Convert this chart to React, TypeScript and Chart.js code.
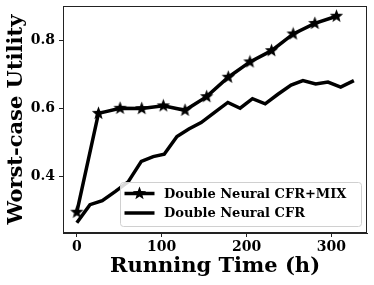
import React, { useEffect, useRef } from "react";
import { Chart, registerables } from "chart.js";
Chart.register(...registerables);

const mixLabel = "Double Neural CFR+MIX";
const baseLabel = "Double Neural CFR";
const mixHours = [0, 25.5, 51, 76.5, 102, 127.5, 153, 178.5, 204, 229.5, 255, 280.5, 306];
const mixUtility = [0.295, 0.585, 0.6, 0.599, 0.607, 0.594, 0.634, 0.691, 0.736, 0.769, 0.818, 0.849, 0.87];
const baseHours = [0, 15.5, 30, 45.5, 60.5, 76, 90, 103, 118, 132, 146.5, 162, 178, 192.5, 207, 222, 237, 252.5, 266.5, 281.5, 296, 311, 326.5];
const baseUtility = [0.264, 0.317, 0.329, 0.356, 0.384, 0.444, 0.458, 0.465, 0.517, 0.539, 0.558, 0.587, 0.617, 0.6, 0.628, 0.613, 0.641, 0.668, 0.681, 0.671, 0.677, 0.662, 0.681];
const xTicks = [0, 100, 200, 300];
const yTicks = [0.4, 0.6, 0.8];

const FONT = "'DejaVu Serif', serif";

function makeStar(size: number): HTMLCanvasElement {
  const c = document.createElement("canvas");
  c.width = size;
  c.height = size;
  const g = c.getContext("2d")!;
  const cx = size / 2, cy = size / 2, R = size / 2 - 0.5, r = R * 0.42;
  g.beginPath();
  for (let i = 0; i < 10; i++) {
    const rad = i % 2 === 0 ? R : r;
    const a = -Math.PI / 2 + (i * Math.PI) / 5;
    const px = cx + rad * Math.cos(a), py = cy + rad * Math.sin(a);
    if (i === 0) g.moveTo(px, py); else g.lineTo(px, py);
  }
  g.closePath();
  g.fillStyle = "#000";
  g.fill();
  return c;
}

export default function App() {
  const ref = useRef<HTMLCanvasElement | null>(null);
  useEffect(() => {
    const star = makeStar(15);
    const framePlugin = {
      id: "frameLegend",
      afterDatasetsDraw(chart: any) {
        const { ctx, chartArea: a } = chart;
        ctx.save();
        // legend
        const lx = 120.5, ly = 182.5, lw = 241, lh = 44, rr = 3;
        ctx.beginPath();
        ctx.moveTo(lx + rr, ly);
        ctx.lineTo(lx + lw - rr, ly);
        ctx.quadraticCurveTo(lx + lw, ly, lx + lw, ly + rr);
        ctx.lineTo(lx + lw, ly + lh - rr);
        ctx.quadraticCurveTo(lx + lw, ly + lh, lx + lw - rr, ly + lh);
        ctx.lineTo(lx + rr, ly + lh);
        ctx.quadraticCurveTo(lx, ly + lh, lx, ly + lh - rr);
        ctx.lineTo(lx, ly + rr);
        ctx.quadraticCurveTo(lx, ly, lx + rr, ly);
        ctx.closePath();
        ctx.fillStyle = "rgba(255,255,255,0.85)";
        ctx.fill();
        ctx.strokeStyle = "#d0d0d0";
        ctx.lineWidth = 1;
        ctx.stroke();
        const rows = [
          { y: 193.5, label: mixLabel, marker: true },
          { y: 213, label: baseLabel, marker: false },
        ];
        ctx.font = `bold 13px ${FONT}`;
        ctx.textBaseline = "middle";
        ctx.textAlign = "left";
        for (const row of rows) {
          ctx.beginPath();
          ctx.moveTo(124.5, row.y);
          ctx.lineTo(154.5, row.y);
          ctx.strokeStyle = "#000";
          ctx.lineWidth = 3.5;
          ctx.stroke();
          if (row.marker) ctx.drawImage(star, 139.5 - 7.5, row.y - 7.5);
          ctx.fillStyle = "#000";
          ctx.fillText(row.label, 164, row.y + 1);
        }
        // frame
        ctx.strokeStyle = "#222";
        ctx.lineWidth = 1;
        ctx.strokeRect(a.left + 0.5, a.top + 0.5, a.right - a.left - 1, a.bottom - a.top - 1);
        ctx.restore();
      },
    };
    const chart = new Chart(ref.current!, {
      type: "line",
      data: {
        datasets: [
          {
            label: mixLabel,
            data: mixHours.map((x, i) => ({ x, y: mixUtility[i] })),
            borderColor: "#000",
            backgroundColor: "#000",
            borderWidth: 3.5,
            pointStyle: star as any,
            pointRadius: 7,
            tension: 0,
          },
          {
            label: baseLabel,
            data: baseHours.map((x, i) => ({ x, y: baseUtility[i] })),
            borderColor: "#000",
            backgroundColor: "#000",
            borderWidth: 3.5,
            pointRadius: 0,
            tension: 0,
          },
        ],
      },
      options: {
        animation: false,
        responsive: false,
        maintainAspectRatio: false,
        layout: { autoPadding: false, padding: { left: 0, top: 6, right: 7, bottom: 0 } },
        plugins: { legend: { display: false }, tooltip: { enabled: false } },
        scales: {
          x: {
            type: "linear",
            min: -16.3,
            max: 342,
            afterBuildTicks: (s: any) => { s.ticks = xTicks.map((v) => ({ value: v })); },
            afterFit: (s: any) => { s.height = 52; s.paddingLeft = 0; s.paddingRight = 0; },
            grid: { display: true, drawOnChartArea: false, tickLength: 4, color: "#222" },
            border: { display: true, color: "#222" },
            ticks: { color: "#000", font: { family: FONT, size: 14, weight: "bold" }, padding: 2, maxRotation: 0 },
            title: { display: true, text: "Running Time (h)", color: "#000", font: { family: FONT, size: 21, weight: "bold" }, padding: { top: 0, bottom: 6 } },
          },
          y: {
            type: "linear",
            min: 0.234,
            max: 0.9,
            afterBuildTicks: (s: any) => { s.ticks = yTicks.map((v) => ({ value: v })); },
            afterFit: (s: any) => { s.width = 63; s.paddingTop = 0; s.paddingBottom = 0; },
            grid: { display: true, drawOnChartArea: false, tickLength: 4, color: "#222" },
            border: { display: true, color: "#222" },
            ticks: { color: "#000", font: { family: FONT, size: 14, weight: "bold" }, padding: 4, callback: (v: any) => Number(v).toFixed(1) },
            title: { display: true, text: "Worst-case Utility", color: "#000", font: { family: FONT, size: 21, weight: "bold" }, padding: { top: 4, bottom: 0 } },
          },
        },
      },
      plugins: [framePlugin],
    });
    return () => chart.destroy();
  }, []);
  return (
    <div style={{ position: "fixed", left: 0, top: 0, width: 374, height: 285, background: "#fff" }}>
      <canvas ref={ref} width={374} height={285} style={{ width: 374, height: 285, display: "block" }} />
    </div>
  );
}
